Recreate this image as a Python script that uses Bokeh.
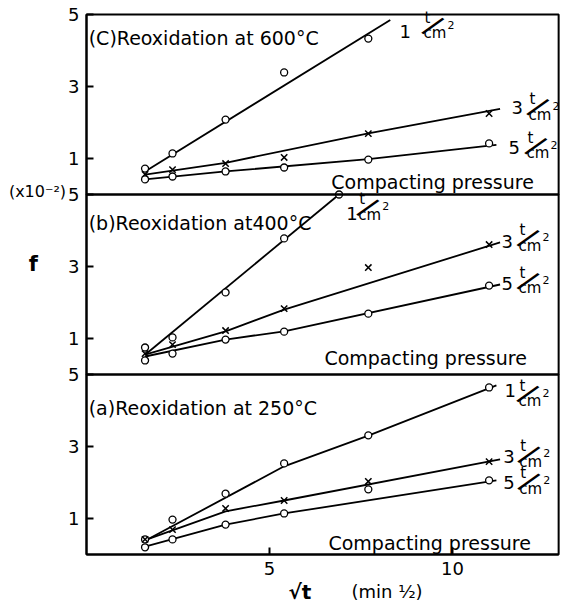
from bokeh.plotting import figure
from bokeh.models import Label, Range1d, FixedTicker, BoxAnnotation
from bokeh.embed import file_html
from bokeh.resources import INLINE

# ---------------- data ----------------
sqrt_t = [1.6, 2.35, 3.8, 5.4, 7.7, 11.0]
x_ticks = [5, 10]
y_ticks = [1, 3, 5]

# (C) Reoxidation at 600 C
c_1t_x = [1.6, 2.35, 3.8, 5.4, 7.7]
c_1t_y = [0.72, 1.14, 2.08, 3.39, 4.33]
c_3t_y = [0.56, 0.69, 0.86, 1.03, 1.69, 2.25]
c_5t_y = [0.42, 0.50, 0.64, 0.75, 0.97, 1.42]
c_1t_fit_x = [1.6, 8.3]
c_1t_fit_y = [0.64, 4.85]
c_3t_fit_x = [1.6, 3.8, 7.7, 11.3]
c_3t_fit_y = [0.55, 0.88, 1.70, 2.38]
c_5t_fit_x = [1.6, 3.8, 7.7, 11.2]
c_5t_fit_y = [0.42, 0.64, 0.98, 1.38]

# (b) Reoxidation at 400 C
b_1t_x = [1.6, 2.35, 3.8, 5.4, 6.9]
b_1t_y = [0.75, 1.03, 2.28, 3.78, 5.0]
b_3t_y = [0.58, 0.83, 1.22, 1.83, 2.97, 3.61]
b_5t_y = [0.39, 0.58, 0.97, 1.19, 1.69, 2.47]
b_1t_fit_x = [1.6, 6.9]
b_1t_fit_y = [0.55, 5.0]
b_3t_fit_x = [1.6, 3.8, 5.4, 11.3]
b_3t_fit_y = [0.55, 1.20, 1.80, 3.67]
b_5t_fit_x = [1.6, 3.8, 5.4, 11.3]
b_5t_fit_y = [0.50, 0.97, 1.20, 2.50]

# (a) Reoxidation at 250 C
a_1t_y = [0.42, 0.97, 1.69, 2.53, 3.31, 4.64]
a_3t_y = [0.42, 0.69, 1.28, 1.50, 2.03, 2.58]
a_5t_y = [0.20, 0.42, 0.83, 1.14, 1.81, 2.06]
a_1t_fit_x = [1.6, 5.4, 7.7, 11.2]
a_1t_fit_y = [0.38, 2.45, 3.30, 4.70]
a_3t_fit_x = [1.6, 3.8, 5.4, 11.3]
a_3t_fit_y = [0.40, 1.20, 1.50, 2.64]
a_5t_fit_x = [1.6, 3.8, 5.4, 11.2]
a_5t_fit_y = [0.22, 0.83, 1.14, 2.06]

# ---------------- styling / layout ----------------
FONT = "DejaVu Sans"
XPX = 36.6      # px per x unit
YPX = 36.0      # px per y unit
W, H = 565, 610
X0_PX, Y15_PX = 86, 14          # where x=0 and the top (y=15) sit on the canvas
X_RIGHT = 12.9                  # right edge of the panels
x_min = -X0_PX / XPX
y_max = 15 + Y15_PX / YPX
y_min = y_max - H / YPX

p = figure(width=W, height=H,
           x_range=Range1d(x_min, x_min + W / XPX), y_range=Range1d(y_min, y_max),
           output_backend="svg", toolbar_location=None,
           min_border_left=0, min_border_right=0, min_border_top=0, min_border_bottom=0)
# each panel gets its own 0..5 scale, stacked in one frame
p.extra_y_ranges = {"a": Range1d(y_min, y_max),
                    "b": Range1d(y_min - 5, y_max - 5),
                    "c": Range1d(y_min - 10, y_max - 10)}

p.grid.visible = False
p.background_fill_color = "white"
p.border_fill_color = "white"
p.outline_line_color = None

ticks = [v + 5 * k for k in range(3) for v in y_ticks]
p.yaxis.ticker = FixedTicker(ticks=ticks)
p.yaxis.major_label_overrides = {v + 5 * k: str(v) for k in range(3) for v in y_ticks}
p.yaxis.fixed_location = 0
p.yaxis.bounds = (0, 15)
p.xaxis.ticker = FixedTicker(ticks=x_ticks)
p.xaxis.fixed_location = 0
p.xaxis.bounds = (0, X_RIGHT)
for ax in (p.xaxis, p.yaxis):
    ax.axis_line_width = 2
    ax.axis_line_color = "black"
    ax.major_tick_in = 7
    ax.major_tick_out = 0
    ax.major_tick_line_width = 2
    ax.major_tick_line_color = "black"
    ax.minor_tick_line_color = None
    ax.major_label_text_font = FONT
    ax.major_label_text_font_size = "18px"
    ax.major_label_text_color = "black"
    ax.major_label_standoff = 7

# panel frames
for k in range(3):
    p.add_layout(BoxAnnotation(left=0, right=X_RIGHT, bottom=5 * k, top=5 * k + 5,
                               fill_color=None, fill_alpha=0,
                               line_color="black", line_width=2, line_alpha=1))


def draw_panel(rng, x1, y1, y3, y5, f1, f3, f5):
    for fx, fy in (f1, f3, f5):
        p.line(fx, fy, line_color="black", line_width=1.8, y_range_name=rng)
    p.scatter(x1, y1, marker="circle", size=7, fill_color="white", line_color="black",
              line_width=1.3, y_range_name=rng)
    p.scatter(sqrt_t, y3, marker="x", size=9, line_color="black", line_width=1.5,
              y_range_name=rng)
    p.scatter(sqrt_t, y5, marker="circle", size=7, fill_color="white", line_color="black",
              line_width=1.3, y_range_name=rng)


draw_panel("c", c_1t_x, c_1t_y, c_3t_y, c_5t_y,
           (c_1t_fit_x, c_1t_fit_y), (c_3t_fit_x, c_3t_fit_y), (c_5t_fit_x, c_5t_fit_y))
draw_panel("b", b_1t_x, b_1t_y, b_3t_y, b_5t_y,
           (b_1t_fit_x, b_1t_fit_y), (b_3t_fit_x, b_3t_fit_y), (b_5t_fit_x, b_5t_fit_y))
draw_panel("a", sqrt_t, a_1t_y, a_3t_y, a_5t_y,
           (a_1t_fit_x, a_1t_fit_y), (a_3t_fit_x, a_3t_fit_y), (a_5t_fit_x, a_5t_fit_y))


def txt(s, x, y, size=19, rng="default", align="left", baseline="middle", angle=0, style="normal"):
    p.add_layout(Label(x=x, y=y, y_range_name=rng, text=s, text_font=FONT,
                       text_font_size=f"{size}px", text_align=align, text_baseline=baseline,
                       angle=angle, text_color="black", text_font_style=style))


def unit_label(rng, num, x, y, gap, num_dy=0):
    txt(num, x, y + num_dy / YPX, 18, rng)
    txt("t", x + (gap + 1) / XPX, y + 8 / YPX, 15, rng)
    txt("cm", x + gap / XPX, y - 7.5 / YPX, 15, rng)
    txt("2", x + (gap + 24) / XPX, y + 1 / YPX, 11, rng)
    txt("/", x + (gap + 10) / XPX, y + 0.5 / YPX, 30, rng, align="center", angle=-0.65)


# panel titles and notes
txt("(C)Reoxidation at 600°C", 0.06, 4.36, 19, "c")
txt("(b)Reoxidation at400°C", 0.06, 4.22, 19, "b")
txt("(a)Reoxidation at 250°C", 0.06, 4.08, 19, "a")
for rng, cx, cy in (("c", 6.69, 0.36), ("b", 6.50, 0.47), ("a", 6.61, 0.33)):
    txt("Compacting pressure", cx, cy, 19, rng)

unit_label("c", "1", 8.55, 4.69, 24, -6)
unit_label("c", "3", 11.61, 2.43, 17, 0)
unit_label("c", "5", 11.53, 1.35, 18, -2)
unit_label("b", "1", 7.10, 4.64, 12, -6)
unit_label("b", "3", 11.34, 3.79, 17, -3)
unit_label("b", "5", 11.34, 2.60, 17, -3)
unit_label("a", "1", 11.42, 4.47, 14, 3)
unit_label("a", "3", 11.39, 2.78, 16, -2)
unit_label("a", "5", 11.39, 2.03, 16, -1)

# axis notes outside the panels
txt("(x10⁻²)", -2.12, 10.08, 16)
txt("f", -1.58, 8.08, 21, style="bold")
txt("√t", 5.52, -1.03, 20, style="bold")
txt("(min ½)", 7.24, -1.03, 18)

open("out.html", "w").write(file_html(p, INLINE))
